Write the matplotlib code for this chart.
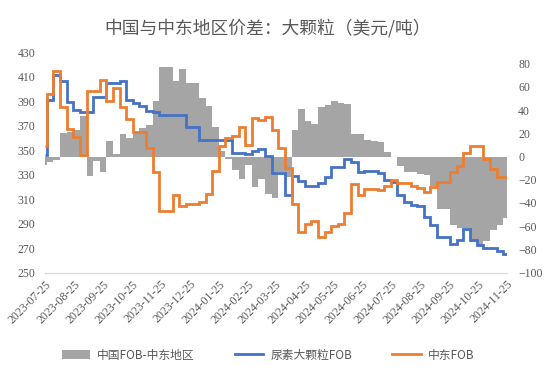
import matplotlib
matplotlib.use("Agg")
import matplotlib.pyplot as plt
import matplotlib.dates as mdates
import pandas as pd
import numpy as np

plt.rcParams['font.family'] = ['Noto Sans CJK SC', 'DejaVu Sans']

title = "中国与中东地区价差：大颗粒（美元/吨）"
series_names = ["中国FOB-中东地区", "尿素大颗粒FOB", "中东FOB"]

# period start dates (first partial period, then weekly), and the end of the last period
period_starts = [pd.Timestamp("2023-07-25")] + list(pd.date_range("2023-07-27", periods=70, freq="7D"))
period_end = pd.Timestamp("2024-11-25")

urea_fob = [346, 391, 411, 406, 389, 383, 381, 381, 393, 393,
            404.5, 404.5, 406.5, 391, 388.5, 386, 381.5, 381, 378.5, 378.5,
            378.5, 378.5, 368.5, 368.5, 358, 358, 358, 358, 358, 348,
            348, 346.5, 349, 351, 345, 331, 331, 313.5, 329, 324.5,
            321, 321, 323.5, 328, 336, 336, 343, 340.5, 332.5, 333,
            333, 331, 325.5, 324, 313.5, 308, 305, 304, 295.5, 289,
            279, 279, 273.5, 276.5, 285.5, 276.5, 272.5, 270, 270, 268,
            265.5]

me_fob = [353, 396, 414.5, 385.5, 367, 361, 346, 398.5, 398.5, 407,
          390, 401, 385.5, 375, 365, 365, 352, 332.5, 300, 300.5,
          313.5, 304, 306, 306, 308, 314.5, 333, 353, 359.5, 361.5,
          369, 354, 376.5, 374.5, 377, 366.5, 352, 335, 306, 283.5,
          290, 292.5, 279.5, 283.5, 288, 290, 298.5, 322, 313, 318.5,
          318.5, 317.5, 321, 325.5, 323.5, 323, 320.5, 319, 316, 319.5,
          324, 324, 332.5, 337, 347.5, 353.5, 353.5, 343, 334.5, 328,
          328]

spread = [-7, -5, -3, 20, 21, 22.5, 34.5, -17, -4, -13.5,
          13, 2, 19.5, 16, 20, 25, 27, 48, 77.5, 77.5,
          65, 75, 63, 63, 50, 43.5, 25.5, 5, -2, -12,
          -19, -7.5, -26.5, -19, -32, -35.5, -13.5, -17.5, 22.5, 41,
          31, 28, 43, 44.5, 47.5, 46.5, 45, 19, 19, 14,
          13.7, 12.2, 4.2, -0.6, -8, -13.5, -13.5, -15, -16.3, -25,
          -45, -45, -59, -61.5, -61.5, -74, -78, -73, -63, -59,
          -53]

left_ticks = list(range(250, 431, 20))
right_ticks = list(range(-100, 81, 20))
xtick_dates = pd.date_range("2023-07-25", "2024-11-25", freq=pd.DateOffset(months=1))

GRAY = "#A5A5A5"
BLUE = "#4472C4"
ORANGE = "#ED7D31"
TXT = "#595959"

edges = mdates.date2num(list(period_starts) + [period_end])

fig = plt.figure(figsize=(5.48, 3.81), dpi=100)
ax = fig.add_axes([0.0821, 0.2843, 0.843, 0.5792])
ax2 = ax.twinx()

# spread (right axis) behind the lines
ax2.stairs(spread, edges, baseline=0, fill=True, color=GRAY, lw=0, label=series_names[0])
ax2.set_ylim(-100, 90)
ax2.set_yticks(right_ticks)

ax.stairs(urea_fob, edges, baseline=None, color=BLUE, lw=2, label=series_names[1])
ax.stairs(me_fob, edges, baseline=None, color=ORANGE, lw=2, label=series_names[2])
ax.set_ylim(250, 430)
ax.set_yticks(left_ticks)
ax.set_xlim(edges[0], edges[-1])
ax.set_xticks(mdates.date2num(list(xtick_dates)))
ax.set_xticklabels([d.strftime("%Y-%m-%d") for d in xtick_dates])

ax.set_zorder(ax2.get_zorder() + 1)
ax.patch.set_visible(False)

for a in (ax, ax2):
    for s in a.spines.values():
        s.set_visible(False)
    a.tick_params(length=0, colors=TXT)
ax.spines['bottom'].set_visible(True)
ax.spines['bottom'].set_color("#D9D9D9")
ax.spines['bottom'].set_linewidth(0.9)

for lab in ax.get_yticklabels() + ax2.get_yticklabels() + ax.get_xticklabels():
    lab.set_fontfamily(['Liberation Serif', 'DejaVu Sans'])
    lab.set_fontsize(8.5)
    lab.set_color(TXT)
ax.tick_params(axis='y', pad=7)
ax2.tick_params(axis='y', pad=8)
ax.tick_params(axis='x', pad=4)
for lab in ax.get_xticklabels():
    lab.set_rotation(45)
    lab.set_ha('right')
    lab.set_rotation_mode('anchor')

fig.text(0.488, 0.926, title, ha='center', va='center', fontsize=12.8, color=TXT)

from matplotlib.patches import Patch
from matplotlib.lines import Line2D
handles = [Patch(facecolor=GRAY, edgecolor='none'),
           Line2D([], [], color=BLUE, lw=2),
           Line2D([], [], color=ORANGE, lw=2)]
fig.legend(handles, series_names, loc='center', bbox_to_anchor=(0.489, 0.068),
           ncol=3, frameon=False, fontsize=8.5, handlelength=2.4, handleheight=0.8,
           handletextpad=0.6, columnspacing=3.4, labelcolor=TXT)

fig.savefig("out.png", dpi=100)
